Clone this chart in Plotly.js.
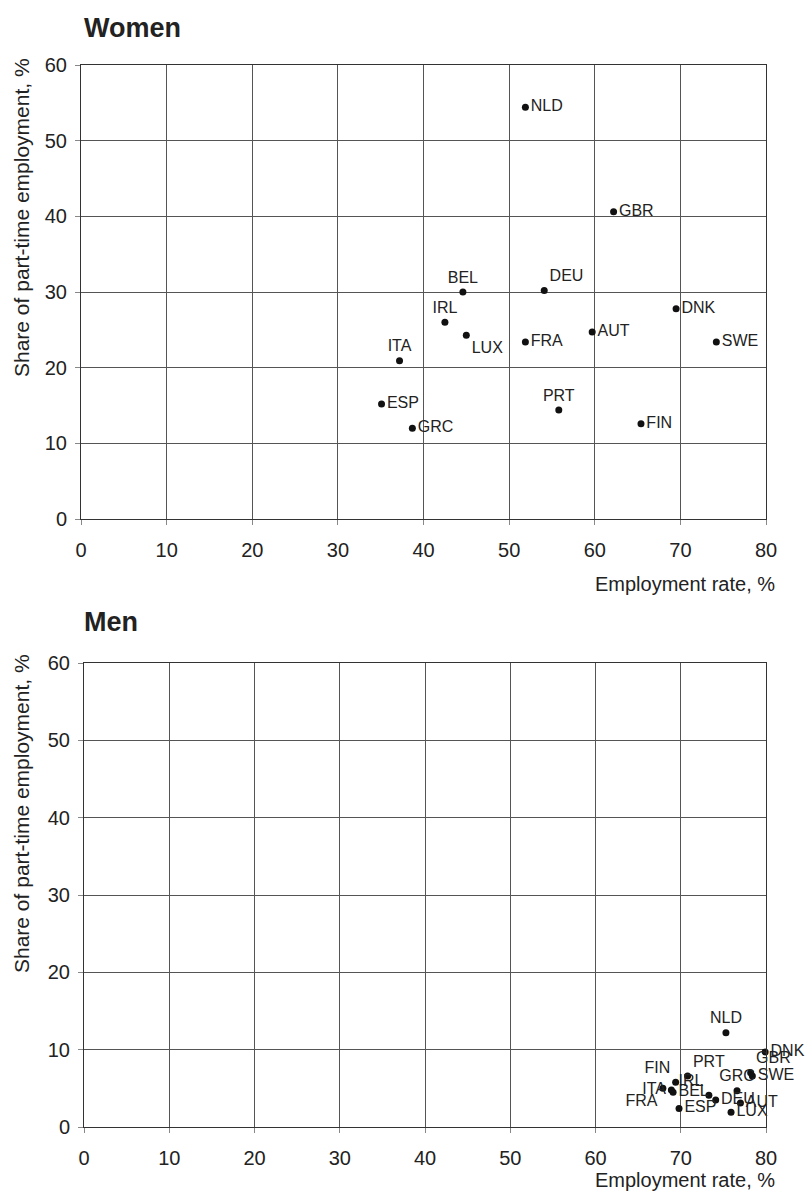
<!DOCTYPE html>
<html>
<head>
<meta charset="utf-8">
<script src="https://cdn.plot.ly/plotly-3.0.1.min.js"></script>
<style>html,body{margin:0;padding:0;background:#fff;}#chart{width:808px;height:1198px;}</style>
</head>
<body>
<div id="chart"></div>
<script>
// Women
const womenCountries = ['NLD','GBR','BEL','DEU','IRL','LUX','FRA','AUT','DNK','SWE','ITA','ESP','GRC','PRT','FIN'];
const womenEmployment = [51.9,62.2,44.6,54.1,42.5,45.0,51.9,59.7,69.5,74.2,37.2,35.1,38.7,55.8,65.4];
const womenPartTime = [54.4,40.6,30.0,30.2,26.0,24.3,23.4,24.7,27.8,23.4,20.9,15.2,12.0,14.4,12.6];
const womenLabelPos = ['middle right','middle right','top center','top right','top center','bottom right','middle right','middle right','middle right','middle right','top center','middle right','middle right','top center','middle right'];

// Men
const menCountries = ['NLD','DNK','GBR','SWE','PRT','FIN','ITA','FRA','BEL','IRL','GRC','DEU','ESP','AUT','LUX'];
const menEmployment = [75.3,79.9,78.2,78.4,70.8,69.4,68.9,67.9,69.1,73.3,76.6,74.1,69.8,77.0,75.9];
const menPartTime = [12.2,9.7,7.0,6.6,6.6,5.8,4.8,5.0,4.5,4.1,4.7,3.5,2.4,3.1,1.9];
const menLabelPos = ['top center','middle right','top right','middle right','top right','top left','middle left','bottom left','middle right','top left','top center','middle right','middle right','middle right','middle right'];

const xTicks = [0,10,20,30,40,50,60,70,80];
const yTicks = [0,10,20,30,40,50,60];

const FONT = 'Liberation Sans, Arial, sans-serif';

function pts(x, y, t, pos, xa, ya) {
  return {
    type: 'scatter', mode: 'markers+text',
    x: x, y: y, text: t, textposition: pos,
    xaxis: xa, yaxis: ya,
    marker: {color: '#111', size: 7},
    textfont: {family: FONT, size: 16, color: '#222'},
    cliponaxis: false, showlegend: false, hoverinfo: 'skip'
  };
}

function xax(domain, anchor) {
  return {
    domain: domain, anchor: anchor, range: [0, 80],
    tickvals: xTicks, ticktext: xTicks.map(String),
    showgrid: true, gridcolor: '#555', gridwidth: 1,
    zeroline: false, showline: true, mirror: true, linecolor: '#333', linewidth: 1,
    ticks: 'outside', ticklen: 5, tickcolor: '#888',
    tickfont: {family: FONT, size: 20, color: '#222'},
    ticklabelstandoff: 8
  };
}
function yax(domain, anchor) {
  return {
    domain: domain, anchor: anchor, range: [0, 60],
    tickvals: yTicks, ticktext: yTicks.map(String),
    showgrid: true, gridcolor: '#555', gridwidth: 1,
    zeroline: false, showline: true, mirror: true, linecolor: '#333', linewidth: 1,
    ticks: 'outside', ticklen: 5, tickcolor: '#888',
    tickfont: {family: FONT, size: 20, color: '#222'},
    ticklabelstandoff: 4
  };
}

const W = 808, H = 1198;
const data = [
  pts(womenEmployment, womenPartTime, womenCountries, womenLabelPos, 'x', 'y'),
  pts(menEmployment, menPartTime, menCountries, menLabelPos, 'x2', 'y2')
];

function ann(text, px, py, opts) {
  return Object.assign({
    text: text, xref: 'paper', yref: 'paper', x: px / W, y: 1 - py / H,
    showarrow: false, font: {family: FONT, size: 20, color: '#222'}
  }, opts || {});
}

const layout = {
  width: W, height: H,
  margin: {l: 0, r: 0, t: 0, b: 0},
  paper_bgcolor: '#fff', plot_bgcolor: '#fff',
  xaxis: xax([81 / W, 766 / W], 'y'),
  yaxis: yax([1 - 519 / H, 1 - 65 / H], 'x'),
  xaxis2: xax([84 / W, 766 / W], 'y2'),
  yaxis2: yax([1 - 1127 / H, 1 - 663 / H], 'x2'),
  annotations: [
    ann('<b>Women</b>', 82, 28, {xanchor: 'left', yanchor: 'middle', font: {family: FONT, size: 27, color: '#222'}}),
    ann('<b>Men</b>', 82, 622, {xanchor: 'left', yanchor: 'middle', font: {family: FONT, size: 27, color: '#222'}}),
    ann('Employment rate, %', 777, 584, {xanchor: 'right', yanchor: 'middle'}),
    ann('Employment rate, %', 777, 1180, {xanchor: 'right', yanchor: 'middle'}),
    ann('Share of part-time employment, %', 22, 218, {xanchor: 'center', yanchor: 'middle', textangle: -90, font: {family: FONT, size: 21, color: '#222'}}),
    ann('Share of part-time employment, %', 22, 814, {xanchor: 'center', yanchor: 'middle', textangle: -90, font: {family: FONT, size: 21, color: '#222'}})
  ]
};

Plotly.newPlot('chart', data, layout, {displayModeBar: false, staticPlot: true});
</script>
</body>
</html>
